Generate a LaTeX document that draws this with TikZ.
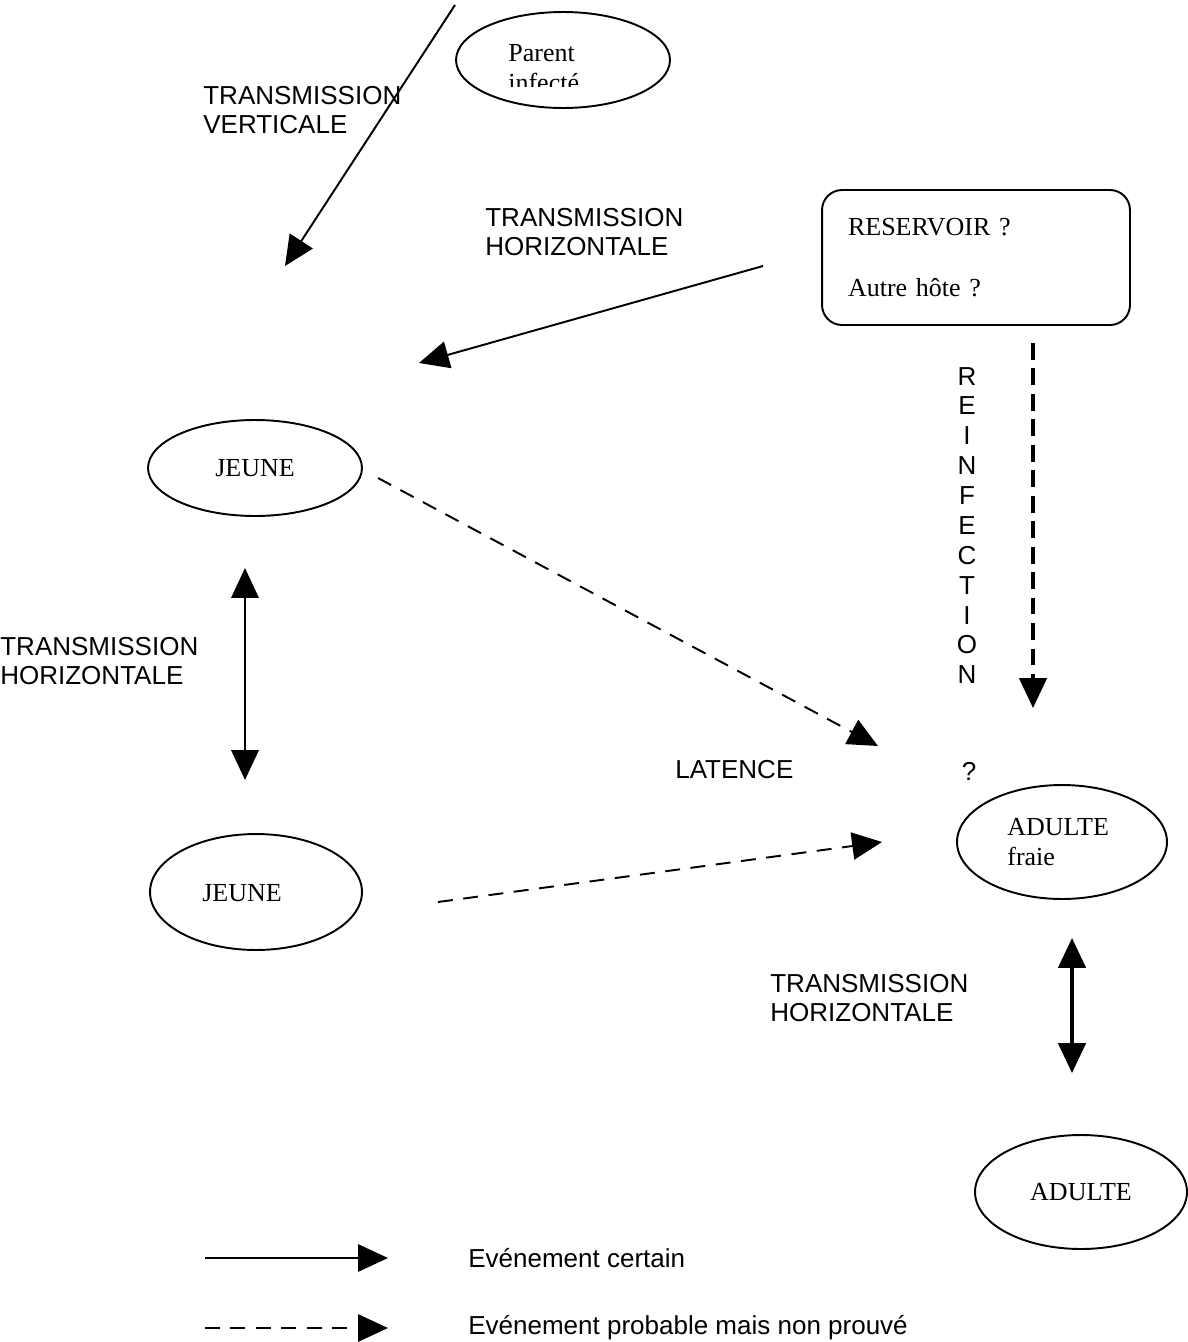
\documentclass[tikz,border=0pt]{standalone}
\usepackage{fontspec}
\setmainfont{Liberation Serif}
\setsansfont{Liberation Sans}
\usetikzlibrary{arrows.meta,shapes.geometric}
\newcommand*{\txtsize}{\fontsize{14.8}{17}\selectfont}

\begin{document}
\begin{tikzpicture}[x=0.02cm,y=-0.02cm,
  every node/.style = {inner sep=0pt},
  stage/.style   = {draw, ellipse, line width=1.1pt, font=\rmfamily\txtsize, align=left},
  lbl/.style     = {font=\sffamily\txtsize, align=left, anchor=west},
  sure/.style    = {line width=1.1pt, -{Triangle[length=17pt,width=15.5pt]}},
  maybe/.style   = {sure, dash pattern=on 8.5pt off 6pt},
  mutual/.style  = {line width=1.4pt, {Triangle[length=17pt,width=15.5pt]}-{Triangle[length=17pt,width=15.5pt]}},
]
  \useasboundingbox (0,0) rectangle (1187,1342);

  % nodes of the cycle
  \node[stage, minimum width=4.28cm, minimum height=1.92cm] (parent) at (563,60) {};
  \begin{scope}
    \clip (500,20) rectangle (640,86);
    \node[font=\rmfamily\txtsize, align=left, anchor=north west] (parenttxt) at (508,44) {Parent\\infecté};
  \end{scope}
  \node[draw, rounded corners=0.4cm, line width=1.1pt, minimum width=6.16cm, minimum height=2.7cm,
        text width=5.12cm, align=left, font=\rmfamily\txtsize] (reservoir) at (976,257.5)
        {RESERVOIR ?\\[17.6pt]Autre hôte ?};
  \node[stage, minimum width=4.28cm, minimum height=1.92cm] (jeuneA) at (255,468) {JEUNE};
  \node[stage, minimum width=4.24cm, minimum height=2.32cm] (jeuneB) at (256,892) {};
  \node[font=\rmfamily\txtsize] (jeuneBtxt) at (242,893) {JEUNE};
  \node[stage, minimum width=4.2cm, minimum height=2.28cm] (adulteA) at (1062,842) {};
  \node[font=\rmfamily\txtsize, align=left, anchor=west] (adulteAtxt) at (1007,842) {ADULTE\\fraie};
  \node[stage, minimum width=4.24cm, minimum height=2.28cm] (adulteB) at (1081,1192) {ADULTE};

  % free ends of the connectors
  \coordinate (vstart) at (455,5);
  \coordinate (vend) at (285,266);
  \coordinate (hstart) at (763,266);
  \coordinate (hend) at (419,363);
  \coordinate (latA) at (378,478);
  \coordinate (latAend) at (878,746);
  \coordinate (latB) at (438,902);
  \coordinate (latBend) at (882,842);
  \coordinate (reinf) at (1033,343);
  \coordinate (reinfend) at (1033,708);
  \coordinate (jtop) at (245,568);
  \coordinate (jbot) at (245,780);
  \coordinate (atop) at (1072,938);
  \coordinate (abot) at (1072,1073);

  \draw[sure] (vstart) -- (vend);
  \draw[sure] (hstart) -- (hend);
  \draw[maybe] (latA) -- (latAend);
  \draw[maybe] (latB) -- (latBend);
  \draw[sure, line width=2pt, dash pattern=on 9.5pt off 5pt] (reinf) -- (reinfend);
  \draw[mutual] (jtop) -- (jbot);
  \draw[mutual, line width=2.2pt] (atop) -- (abot);

  % labels
  \node[lbl] (vert) at (203,110) {TRANSMISSION\\VERTICALE};
  \node[lbl] (horA) at (485,232) {TRANSMISSION\\HORIZONTALE};
  \node[lbl] (horB) at (0,661) {TRANSMISSION\\HORIZONTALE};
  \node[lbl] (horC) at (770,998) {TRANSMISSION\\HORIZONTALE};
  \node[lbl] (latence) at (675,770) {LATENCE};
  \node[lbl, anchor=center] (quest) at (969,771) {?};
  \node[lbl, anchor=center, align=center] (reinftxt) at (967,525.5)
    {R\\E\\I\\N\\F\\E\\C\\T\\I\\O\\N};

  % legend
  \coordinate (legA) at (205,1258);
  \coordinate (legAend) at (388,1258);
  \coordinate (legB) at (205,1328);
  \coordinate (legBend) at (388,1328);
  \draw[sure] (legA) -- (legAend);
  \draw[maybe] (legB) -- (legBend);
  \node[lbl] (legAtxt) at (468,1258) {Evénement certain};
  \node[lbl] (legBtxt) at (468,1328) {Evénement probable mais non prouvé};
\end{tikzpicture}
\end{document}
